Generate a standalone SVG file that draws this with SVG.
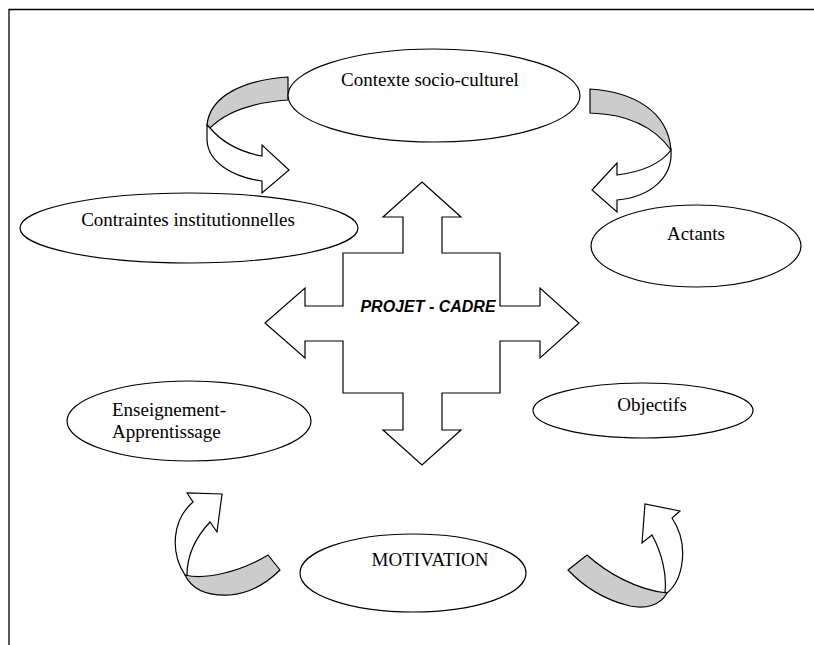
<svg xmlns="http://www.w3.org/2000/svg" width="814" height="645" viewBox="0 0 814 645">
<style>
.node{fill:#fff;stroke:#000;stroke-width:1.2}
.lbl{font-family:"Liberation Serif","Times New Roman",serif;font-size:19px;fill:#000}
.band{fill:#cccccc;stroke:#000;stroke-width:1.2;stroke-linejoin:round}
.arr{fill:#fff;stroke:#000;stroke-width:1.2;stroke-linejoin:miter}
.title{font-family:"Liberation Sans",Arial,sans-serif;font-size:16px;font-weight:bold;font-style:italic;fill:#000}
</style>
<rect width="814" height="645" fill="#fff"/>
<path d="M9,645 L9,9.5 L814,9.5" fill="none" stroke="#000" stroke-width="1.3"/>

<g id="connectors">
  <g id="arrow-top-left">
    <path class="band" d="M288,77 C245,80 210,95 207,125 L210,128 C228,110 258,102 288,100 Z"/>
    <path class="arr" d="M210,128 C222,142 240,152 262,156 L262,145 L289,170 L262,193 L262,181 C232,177 208,162 207,140 L207,125 Z"/>
  </g>
  <g id="arrow-top-right">
    <path class="band" d="M590,89 C635,92 668,112 671,150 C655,128 628,114 590,113 Z"/>
    <path class="arr" d="M671,150 C673,178 650,197 617,200 L617,212 L592,190 L617,163 L617,175 C640,172 660,165 671,150 Z"/>
  </g>
  <g id="arrow-bottom-left">
    <path class="band" d="M268,555 C240,572 205,580 185,575 C193,592 210,596 230,595 C252,593 268,582 280,570 Z"/>
    <path class="arr" d="M185,575 C170,552 172,520 193,502 L187,493 L222,494 L217,532 L210,522 C196,537 187,555 187,575 Z"/>
  </g>
  <g id="arrow-bottom-right">
    <path class="band" d="M587,555 C607,573 637,590 667,593 C660,606 645,609 630,606 C605,600 585,588 568,570 Z"/>
    <path class="arr" d="M667,593 C683,580 690,545 672,518 L680,511 L645,504 L642,543 L652,535 C662,553 667,575 665,592 Z"/>
  </g>
</g>

<g id="projet-cadre">
  <path class="arr" d="M422,182 L461,217 L442,217 L442,253 L500,253 L500,306 L540,306 L540,288 L579,323 L540,358 L540,341 L500,341 L500,393 L442,393 L442,430 L461,430 L422,465 L383,430 L403,430 L403,393 L343,393 L343,341 L305,341 L305,358 L265,323 L305,288 L305,306 L343,306 L343,253 L403,253 L403,217 L383,217 Z"/>
  <text class="title" x="428" y="312" text-anchor="middle">PROJET - CADRE</text>
</g>

<g id="contexte">
  <ellipse class="node" cx="434" cy="95.5" rx="146" ry="46.5"/>
  <text class="lbl" x="430" y="86" text-anchor="middle">Contexte socio-culturel</text>
</g>
<g id="contraintes">
  <ellipse class="node" cx="189" cy="228" rx="169" ry="35"/>
  <text class="lbl" x="188" y="226" text-anchor="middle">Contraintes institutionnelles</text>
</g>
<g id="actants">
  <ellipse class="node" cx="696" cy="246" rx="105" ry="41"/>
  <text class="lbl" x="696" y="240" text-anchor="middle">Actants</text>
</g>
<g id="enseignement">
  <ellipse class="node" cx="189" cy="421" rx="122" ry="40"/>
  <text class="lbl" x="112" y="416">Enseignement-</text>
  <text class="lbl" x="112" y="438">Apprentissage</text>
</g>
<g id="objectifs">
  <ellipse class="node" cx="643" cy="410.5" rx="110" ry="27.5"/>
  <text class="lbl" x="652" y="411" text-anchor="middle">Objectifs</text>
</g>
<g id="motivation">
  <ellipse class="node" cx="413" cy="573" rx="113" ry="39"/>
  <text class="lbl" x="430" y="566" text-anchor="middle">MOTIVATION</text>
</g>
</svg>
